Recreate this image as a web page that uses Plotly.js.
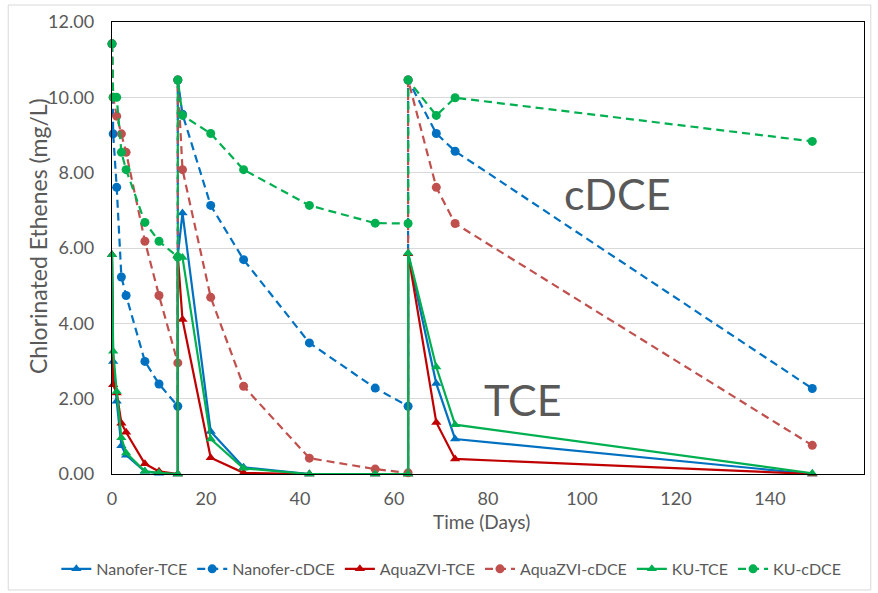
<!DOCTYPE html>
<html>
<head>
<meta charset="utf-8">
<script src="https://cdn.plot.ly/plotly-3.0.1.min.js"></script>
<style>html,body{margin:0;padding:0;background:#fff;}#chart{width:878px;height:593px;}</style>
</head>
<body>
<div id="chart"></div>
<script>
// Sampling times (days); repeated times mark re-spiking events
const days = [0, 0.25, 1, 2, 3, 7, 10, 14, 14, 15, 21, 28, 42, 56, 63, 63, 69, 73, 149];

const seriesNames = ["Nanofer-TCE", "Nanofer-cDCE", "AquaZVI-TCE", "AquaZVI-cDCE", "KU-TCE", "KU-cDCE"];

const nanoferTCE  = [5.82, 2.99, 1.93, 0.75, 0.50, 0.07, 0.02, 0.00, 5.80, 6.93, 1.13, 0.18, 0.00, 0.00, 0.00, 5.85, 2.40, 0.93, 0.00];
const nanoferCDCE = [11.42, 9.03, 7.61, 5.23, 4.74, 2.99, 2.39, 1.80, 10.46, 9.55, 7.13, 5.69, 3.48, 2.28, 1.80, 10.46, 9.04, 8.57, 2.27];
const aquaTCE     = [5.82, 2.37, 2.15, 1.35, 1.11, 0.27, 0.07, 0.00, 5.80, 4.10, 0.43, 0.03, 0.00, 0.00, 0.00, 5.85, 1.37, 0.40, 0.00];
const aquaCDCE    = [11.42, 10.00, 9.50, 9.03, 8.54, 6.18, 4.74, 2.95, 10.46, 8.08, 4.69, 2.33, 0.42, 0.13, 0.03, 10.46, 7.61, 6.65, 0.76];
const kuTCE       = [5.82, 3.26, 2.19, 0.96, 0.56, 0.07, 0.03, 0.00, 5.78, 5.75, 0.93, 0.15, 0.00, 0.00, 0.00, 5.87, 2.84, 1.31, 0.02];
const kuCDCE      = [11.42, 10.00, 10.00, 8.54, 8.08, 6.68, 6.18, 5.76, 10.46, 9.52, 9.04, 8.08, 7.13, 6.66, 6.65, 10.46, 9.52, 9.99, 8.83];

const labelCDCE = "cDCE";
const labelTCE = "TCE";
const xTitle = "Time (Days)";
const yTitle = "Chlorinated Ethenes (mg/L)";

const FONT = "Lato, 'Open Sans', sans-serif";
const GREY = "#595959";

function tce(name, y, color) {
  return {
    x: days, y: y, name: name, type: "scatter", mode: "lines+markers",
    line: {color: color, width: 2.2},
    marker: {symbol: "triangle-up", size: 9, color: color},
    cliponaxis: false
  };
}
function cdce(name, y, color) {
  return {
    x: days, y: y, name: name, type: "scatter", mode: "lines+markers",
    line: {color: color, width: 2.2, dash: "8px,5px"},
    marker: {symbol: "circle", size: 9, color: color},
    cliponaxis: false
  };
}

const data = [
  tce(seriesNames[0], nanoferTCE, "#0070C0"),
  cdce(seriesNames[1], nanoferCDCE, "#0070C0"),
  tce(seriesNames[2], aquaTCE, "#C00000"),
  cdce(seriesNames[3], aquaCDCE, "#C0504D"),
  tce(seriesNames[4], kuTCE, "#00B050"),
  cdce(seriesNames[5], kuCDCE, "#00B050")
];

const layout = {
  width: 878, height: 593,
  margin: {l: 112, r: 14, t: 22, b: 119, autoexpand: false},
  paper_bgcolor: "#ffffff", plot_bgcolor: "#ffffff",
  font: {family: FONT, color: GREY, size: 15},
  showlegend: true,
  legend: {
    orientation: "h", x: -0.074, xanchor: "left", y: -0.21, yanchor: "middle",
    font: {family: FONT, size: 16, color: GREY}, traceorder: "normal",
    itemwidth: 30, bgcolor: "rgba(0,0,0,0)"
  },
  xaxis: {
    range: [0, 160], dtick: 20, tick0: 0,
    showgrid: false, zeroline: false,
    showline: true, linecolor: "#000000", linewidth: 1.3, mirror: true,
    ticks: "", ticklabelstandoff: 8,
    tickfont: {family: FONT, size: 18, color: GREY}
  },
  yaxis: {
    range: [0, 12], dtick: 2, tick0: 0, tickformat: ".2f",
    showgrid: true, gridcolor: "#D9D9D9", gridwidth: 1,
    zeroline: false,
    showline: true, linecolor: "#000000", linewidth: 1.3, mirror: true,
    ticks: "", ticklabelstandoff: 13,
    tickfont: {family: FONT, size: 18, color: GREY}
  },
  annotations: [
    {x: 0.492, y: -0.106, xref: "paper", yref: "paper", text: xTitle, showarrow: false,
     font: {family: FONT, size: 19, color: GREY}, xanchor: "center", yanchor: "middle"},
    {x: -0.0984, y: 0.5265, xref: "paper", yref: "paper", text: yTitle, showarrow: false, textangle: -90,
     font: {family: FONT, size: 23, color: GREY}, xanchor: "center", yanchor: "middle"},
    {x: 107.6, y: 7.44, xref: "x", yref: "y", text: labelCDCE, showarrow: false,
     font: {family: FONT, size: 43, color: GREY}, xanchor: "center", yanchor: "middle"},
    {x: 87.4, y: 1.97, xref: "x", yref: "y", text: labelTCE, showarrow: false,
     font: {family: FONT, size: 43, color: GREY}, xanchor: "center", yanchor: "middle"}
  ],
  shapes: [
    {type: "rect", xref: "paper", yref: "paper", x0: -0.138, x1: 1.009, y0: -0.2566, y1: 1.0376,
     line: {color: "#D9D9D9", width: 1}, fillcolor: "rgba(0,0,0,0)", layer: "below"}
  ]
};

Plotly.newPlot("chart", data, layout, {displayModeBar: false, staticPlot: true});
</script>
</body>
</html>
